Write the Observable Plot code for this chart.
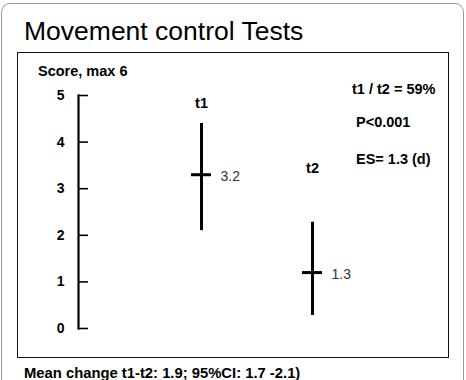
<!DOCTYPE html>
<html>
<head>
<meta charset="utf-8">
<script src="https://cdn.jsdelivr.net/npm/d3@7"></script>
<script src="https://cdn.jsdelivr.net/npm/@observablehq/plot@0.6"></script>
<style>
  html, body { margin: 0; padding: 0; background: #fff; }
  body { width: 466px; height: 380px; overflow: hidden; position: relative; font-family: "Liberation Sans", Arial, sans-serif; }
  #frame { position: absolute; left: 1px; top: 3px; width: 463px; height: 420px; border: 1px solid #999; border-radius: 9px; box-sizing: border-box; }
  #title { position: absolute; left: 24px; top: 18px; font-size: 26.5px; line-height: 26px; color: #000; white-space: nowrap; }
  #box { position: absolute; left: 17px; top: 52px; width: 432px; height: 306px; border: 1.5px solid #111; box-sizing: border-box; }
  #chart { position: absolute; left: 17px; top: 52px; }
  .lbl { position: absolute; font-weight: bold; font-size: 14.5px; line-height: 14px; white-space: nowrap; color: #000; }
  #ylabel { left: 38px; top: 64px; }
  #stats div { position: absolute; font-weight: bold; font-size: 14.5px; line-height: 14px; white-space: nowrap; }
  #footer { left: 24px; top: 366px; font-size: 14.8px; }
</style>
</head>
<body>
<div id="frame"></div>
<div id="title"></div>
<div id="box"></div>
<div id="chart"></div>
<div id="ylabel" class="lbl"></div>
<div id="stats"></div>
<div id="footer" class="lbl"></div>
<script>
// ---- data ----
const titleText = "Movement control Tests";
const yLabelText = "Score, max 6";
const categories = ["t1", "t2"];
const means = [3.3, 1.2];          // drawn position of the mean marker
const meanLabels = ["3.2", "1.3"]; // printed values
const lows = [2.1, 0.28];
const highs = [4.4, 2.28];
const categoryLabelY = [4.83, 3.43]; // where the t1 / t2 labels sit on the score scale
const yTicks = [0, 1, 2, 3, 4, 5];
const statLines = ["t1 / t2 = 59%", "P<0.001", "ES= 1.3 (d)"];
const footerText = "Mean change t1-t2: 1.9; 95%CI: 1.7 -2.1)";

document.getElementById("title").textContent = titleText;
document.getElementById("ylabel").textContent = yLabelText;
document.getElementById("footer").textContent = footerText;

const statPos = [[352, 82], [356, 115], [356, 152]];
const stats = document.getElementById("stats");
statLines.forEach((t, i) => {
  const d = document.createElement("div");
  d.textContent = t;
  d.style.left = statPos[i][0] + "px";
  d.style.top = statPos[i][1] + "px";
  stats.appendChild(d);
});

const rows = categories.map((c, i) => ({
  cat: c, mean: means[i], lo: lows[i], hi: highs[i], label: meanLabels[i], ly: categoryLabelY[i]
}));

const chart = Plot.plot({
  width: 431,
  height: 305,
  marginTop: 43,
  marginBottom: 29,
  marginLeft: 61,
  marginRight: 0,
  x: { type: "band", domain: categories, range: [173.7, 305.7], paddingInner: 0.8214, paddingOuter: 0, axis: null },
  y: { domain: [0, 5] },
  style: { fontFamily: "'Liberation Sans', Arial, sans-serif", background: "transparent", color: "#000" },
  marks: [
    Plot.frame({ anchor: "left", stroke: "#000", strokeWidth: 2.2 }),
    Plot.axisY(yTicks, {
      anchor: "left", tickSize: -10, tickPadding: 24, label: null,
      strokeWidth: 1.6, fontWeight: "bold", fontSize: 14, stroke: "#000", fill: "#000"
    }),
    Plot.ruleX(rows, { x: "cat", y1: "lo", y2: "hi", strokeWidth: 3, stroke: "#000" }),
    Plot.tickY(rows, { x: "cat", y: "mean", strokeWidth: 3, stroke: "#000" }),
    Plot.text(rows, { x: "cat", y: "mean", text: "label", textAnchor: "start", dx: 19, dy: 2, fontSize: 14, fill: "#333" }),
    Plot.text(rows, { x: "cat", y: "ly", text: "cat", fontSize: 14.5, fontWeight: "bold", fill: "#000" })
  ]
});
document.getElementById("chart").appendChild(chart);
</script>
</body>
</html>
